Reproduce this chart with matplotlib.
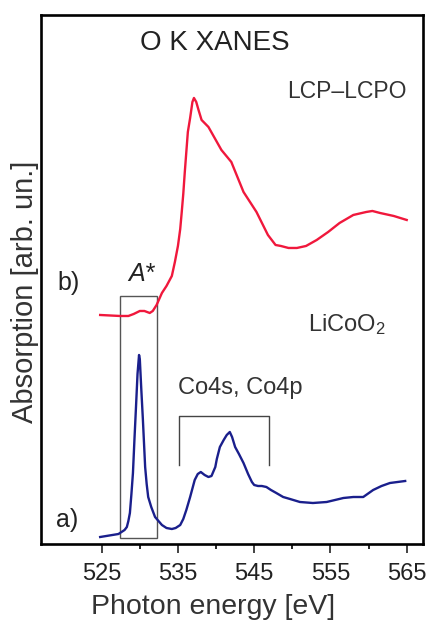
import matplotlib
matplotlib.use("Agg")
import matplotlib.pyplot as plt
from matplotlib.patches import Rectangle

plt.rcParams["font.family"] = ["Liberation Sans", "DejaVu Sans"]
plt.rcParams["mathtext.fontset"] = "custom"
plt.rcParams["mathtext.rm"] = "Liberation Sans"
plt.rcParams["mathtext.it"] = "Liberation Sans:italic"

# -----------------------------
# Data (arb. units)
# -----------------------------

# a) LiCoO2
licoo2_energy = [524.8, 527.2, 528.0, 528.3, 528.5, 528.7, 528.9, 529.1, 529.3,
                 529.5, 529.7, 529.9, 530.0, 530.2, 530.4, 530.7, 530.9, 531.1,
                 531.5, 532.0, 532.9, 533.5, 534.2, 534.7, 535.3, 535.7, 536.1,
                 536.6, 537.2, 537.6, 538.0, 538.5, 539.0, 539.4, 539.9, 540.1,
                 540.5, 541.0, 541.4, 541.8, 542.1, 542.5, 543.0, 543.6, 544.2,
                 544.7, 545.0, 545.5, 546.0, 546.6, 547.2, 547.9, 548.8, 549.7,
                 551.0, 552.7, 554.5, 556.7, 558.0, 559.3, 560.6, 561.7, 562.8,
                 563.8, 564.8]
licoo2_abs = [0.07, 0.10, 0.14, 0.17, 0.23, 0.31, 0.50, 0.71, 1.05,
              1.37, 1.70, 1.89, 1.85, 1.54, 1.25, 0.77, 0.60, 0.47,
              0.37, 0.27, 0.19, 0.16, 0.15, 0.16, 0.19, 0.25, 0.34,
              0.47, 0.64, 0.70, 0.72, 0.69, 0.67, 0.68, 0.77, 0.85,
              0.97, 1.04, 1.09, 1.12, 1.07, 0.97, 0.90, 0.81, 0.70,
              0.62, 0.59, 0.58, 0.58, 0.57, 0.54, 0.51, 0.47, 0.45,
              0.42, 0.41, 0.42, 0.46, 0.47, 0.47, 0.54, 0.58, 0.61,
              0.62, 0.63]

# b) LCP-LCPO
lcp_energy = [524.8, 527.4, 528.5, 529.2, 530.0, 530.6, 531.3, 531.7, 532.2,
              532.9, 533.5, 534.2, 534.6, 535.0, 535.3, 535.5, 535.7, 535.9,
              536.1, 536.3, 536.6, 536.9, 537.1, 537.4, 537.7, 538.1, 539.0,
              540.7, 542.0, 543.6, 545.3, 546.8, 547.5, 547.8, 548.5, 549.5,
              550.6, 551.8, 553.2, 554.7, 556.2, 558.0, 559.7, 560.5, 561.5,
              563.3, 565.0]
lcp_abs = [2.29, 2.28, 2.28, 2.30, 2.33, 2.33, 2.31, 2.33, 2.39,
           2.51, 2.58, 2.68, 2.82, 2.98, 3.15, 3.32, 3.50, 3.72,
           3.92, 4.12, 4.26, 4.42, 4.46, 4.42, 4.34, 4.24, 4.17,
           3.94, 3.82, 3.52, 3.32, 3.09, 3.02, 2.99, 2.98, 2.96,
           2.96, 2.98, 3.04, 3.12, 3.21, 3.29, 3.32, 3.33, 3.31,
           3.28, 3.24]

xticks_major = [525, 535, 545, 555, 565]
xticks_minor = [530, 540, 550, 560]

# A* pre-edge window and Co4s/Co4p bracket
astar_window = (527.4, 532.2, 0.06, 2.48)
co_bracket = (535.1, 546.9, 0.79, 1.28)

# -----------------------------
# Figure
# -----------------------------

fig = plt.figure(figsize=(4.26, 6.23), dpi=100)
ax = fig.add_axes([0.0962, 0.1268, 0.8968, 0.8492])

ax.plot(licoo2_energy, licoo2_abs, color="#1a1f8c", lw=1.7)
ax.plot(lcp_energy, lcp_abs, color="#f0183c", lw=1.7)

x0, x1, y0, y1 = astar_window
ax.add_patch(Rectangle((x0, y0), x1 - x0, y1 - y0, fill=False,
                       ec="#555555", lw=1.0))

bx0, bx1, by0, by1 = co_bracket
ax.plot([bx0, bx0, bx1, bx1], [by0, by1, by1, by0], color="#444444", lw=1.0)

ax.set_xlim(517.04, 567.14)
ax.set_ylim(0, 5.29)
ax.set_yticks([])
ax.set_xticks(xticks_major)
ax.set_xticks(xticks_minor, minor=True)
ax.tick_params(axis="x", which="major", direction="out", length=6.5,
               width=1.2, labelsize=17, pad=7, colors="#222222")
ax.tick_params(axis="x", which="minor", direction="out", length=3.5,
               width=1.2)
for s in ax.spines.values():
    s.set_linewidth(1.9)

txt = "#222222"
ax.text(539.9, 5.01, "O K XANES", fontsize=20, ha="center", va="center", color=txt)
ax.text(557.2, 4.525, "LCP\u2013LCPO", fontsize=16.5, ha="center", va="center", color="#333333")
ax.text(552.0, 2.19, "LiCoO$_2$", fontsize=17, ha="left", va="center", color="#333333")
ax.text(535.0, 1.56, "Co4s, Co4p", fontsize=17, ha="left", va="center", color="#333333")
ax.text(530.2, 2.70, "A*", fontsize=18, style="italic", ha="center", va="center", color=txt)
ax.text(520.7, 2.61, "b)", fontsize=18, ha="center", va="center", color=txt)
ax.text(520.5, 0.24, "a)", fontsize=18, ha="center", va="center", color=txt)

fig.text(25 / 426, 1 - 291.5 / 623, "Absorption [arb. un.]", fontsize=21,
         rotation=90, ha="center", va="center", color="#333333")
fig.text(213 / 426, 1 - 607 / 623, "Photon energy [eV]", fontsize=20.5,
         ha="center", va="center", color="#333333")

fig.savefig("out.png", dpi=100)
